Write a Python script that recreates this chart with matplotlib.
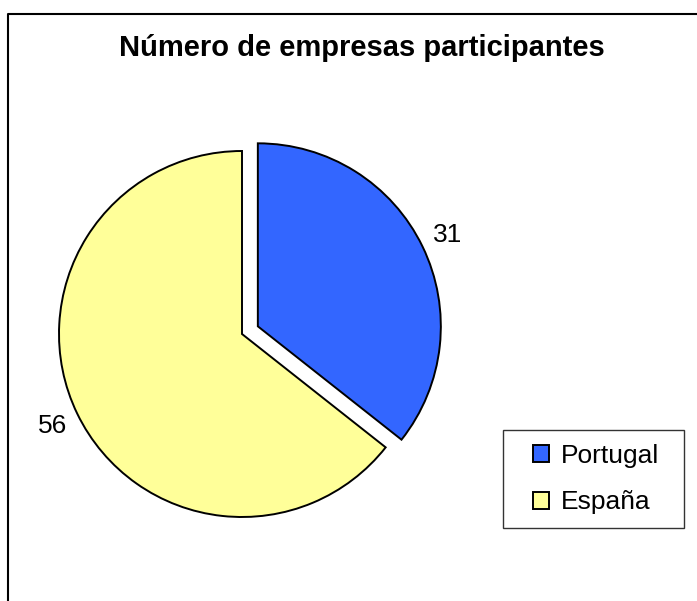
import matplotlib
matplotlib.use("Agg")
import matplotlib.pyplot as plt
import matplotlib.patches as patches
from matplotlib.lines import Line2D

plt.rcParams['font.family'] = ['Liberation Sans', 'DejaVu Sans']

# data
countries = ['Portugal', 'España']
companies = [31, 56]
colors = ['#3366FF', '#FFFF99']
title = 'Número de empresas participantes'

W, H = 697, 601
fig = plt.figure(figsize=(W / 100, H / 100), dpi=100)

# outer frame (only left and top edges fall inside the picture)
fig.add_artist(Line2D([7.5 / W, 7.5 / W, 1.01], [-0.01, 1 - 13.5 / H, 1 - 13.5 / H],
                      transform=fig.transFigure, color='black', lw=1.5))

fig.text(362 / W, 1 - 56 / H, title, ha='center', va='baseline',
         fontsize=21, fontweight='bold')

# axes in pixel units over the whole figure
ax = fig.add_axes([0, 0, 1, 1])
wedges, texts = ax.pie(companies, labels=[str(v) for v in companies], colors=colors,
                       startangle=90, counterclock=False, explode=[17.6, 0],
                       center=(242, H - 334), radius=183, labeldistance=1.15,
                       wedgeprops=dict(edgecolor='black', linewidth=1.4),
                       textprops=dict(fontsize=19))
for t in texts:
    t.set_ha('center')
    t.set_va('center')
ax.set_xlim(0, W)
ax.set_ylim(0, H)
ax.set_aspect('equal')
ax.axis('off')

# legend box
fig.add_artist(patches.Rectangle((502.7 / W, 1 - 528 / H), (684 - 502.7) / W, (528 - 430) / H,
                                 transform=fig.transFigure, facecolor='white',
                                 edgecolor='#333333', lw=1.0))
leg = fig.legend(wedges, countries, loc='upper left',
                 bbox_to_anchor=(533 / W, 1 - 444 / H), frameon=False,
                 fontsize=19, borderpad=0, borderaxespad=0,
                 handlelength=0.62, handleheight=0.62, handletextpad=0.42,
                 labelspacing=0.85)
for h in leg.legend_handles:
    h.set_linewidth(1.4)

fig.savefig('out.png', dpi=100)
